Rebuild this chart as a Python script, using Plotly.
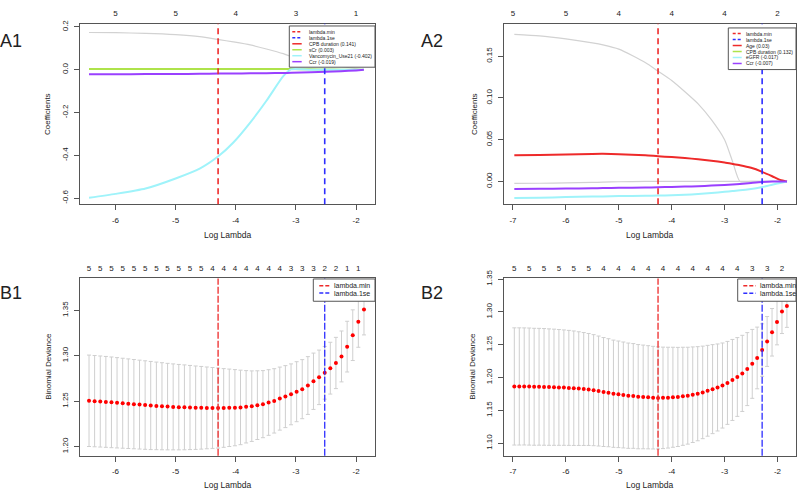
import plotly.graph_objects as go

W, H = 800, 492
def px(x): return x / W
def py(y): return 1 - y / H

FONT = "Liberation Sans, Arial, sans-serif"
TXT = "#222222"
LINE = "#555555"
RED = "#ee2a2a"
BLUE = "#2e2eff"
GREEN = "#aee34b"
CYAN = "#9ff3fa"
PURPLE = "#9a40ff"
GRAY = "#d2d2d2"

# ---------------- A1: coefficient paths ----------------
a1_loglam = [-6.44, -6.0, -5.5, -5.0, -4.6, -4.28, -4.04, -3.76, -3.49, -3.21, -3.08, -2.75, -2.5, -2.25, -2.0, -1.87]
a1_cpb = [0.174, 0.173, 0.170, 0.164, 0.155, 0.141, 0.130, 0.116, 0.097, 0.075, 0.062, 0.042, 0.028, 0.016, 0.005, 0.0]
a1_scr = [0.003, 0.003, 0.003, 0.003, 0.003, 0.003, 0.003, 0.003, 0.003, 0.003, 0.003, 0.002, 0.001, 0.0005, 0.0, 0.0]
a1_vanco = [-0.598, -0.580, -0.555, -0.508, -0.462, -0.402, -0.340, -0.247, -0.145, -0.030, 0.002, 0.0, 0.0, 0.0, 0.0, 0.0]
a1_ccr = [-0.0210, -0.0208, -0.0203, -0.0197, -0.0190, -0.0180, -0.0175, -0.0168, -0.0160, -0.0150, -0.0143, -0.0122, -0.0098, -0.0070, -0.0030, 0.0]
a1_top_pos = [-6, -5, -4, -3, -2]
a1_top_nz = [5, 5, 4, 3, 1]
a1_legend = ["lambda.min", "lambda.1se", "CPB duration (0.141)", "sCr (0.003)", "Vancomycin_Use21 (-0.402)", "Ccr (-0.019)"]

# ---------------- A2: coefficient paths ----------------
a2_loglam = [-6.975, -6.5, -6.0, -5.5, -5.3, -5.0, -4.5, -4.26, -4.0, -3.75, -3.5, -3.25, -3.0, -2.85, -2.71, -2.5, -2.3, -2.1, -1.95, -1.82]
a2_cpb = [0.1763, 0.1745, 0.1708, 0.1660, 0.1636, 0.1585, 0.1425, 0.1323, 0.1210, 0.1075, 0.0930, 0.0740, 0.0500, 0.0240, 0.0, 0.0, 0.0, 0.0, 0.0, 0.0]
a2_other = [-0.0024, -0.0022, -0.0018, -0.0012, -0.0009, -0.0004, 0.0, 0.0, 0.0, 0.0, 0.0, 0.0, 0.0, 0.0, 0.0, 0.0, 0.0, 0.0, 0.0, 0.0]
a2_age = [0.0314, 0.0318, 0.0324, 0.0330, 0.0331, 0.0326, 0.0313, 0.0302, 0.0292, 0.0280, 0.0266, 0.0248, 0.0226, 0.0210, 0.0194, 0.0163, 0.0118, 0.0062, 0.0018, 0.0]
a2_egfr = [-0.0200, -0.0195, -0.0188, -0.0182, -0.0180, -0.0176, -0.0172, -0.0170, -0.0166, -0.0160, -0.0152, -0.0140, -0.0125, -0.0116, -0.0107, -0.0090, -0.0070, -0.0040, -0.0018, 0.0]
a2_ccr = [-0.0090, -0.0088, -0.0085, -0.0082, -0.0080, -0.0077, -0.0073, -0.0070, -0.0066, -0.0062, -0.0057, -0.0050, -0.0042, -0.0036, -0.0030, -0.0018, -0.0007, 0.0, 0.0, 0.0]
a2_top_pos = [-7, -6, -5, -4, -3, -2]
a2_top_nz = [5, 5, 4, 4, 4, 2]
a2_legend = ["lambda.min", "lambda.1se", "Age (0.03)", "CPB duration (0.132)", "eGFR (-0.017)", "Ccr (-0.007)"]

# ---------------- B1: cross-validation ----------------
b1_loglam = [-6.440, -6.347, -6.253, -6.160, -6.067, -5.974, -5.880, -5.787, -5.694, -5.600,
             -5.507, -5.414, -5.320, -5.227, -5.134, -5.041, -4.947, -4.854, -4.761, -4.667,
             -4.574, -4.481, -4.387, -4.294, -4.201, -4.108, -4.014, -3.921, -3.828, -3.734,
             -3.641, -3.548, -3.454, -3.361, -3.268, -3.175, -3.081, -2.988, -2.895, -2.801,
             -2.708, -2.615, -2.521, -2.428, -2.335, -2.242, -2.148, -2.055, -1.962, -1.868]
b1_dev = [1.2504, 1.2500, 1.2496, 1.2492, 1.2487, 1.2482, 1.2477, 1.2472, 1.2467, 1.2462,
          1.2457, 1.2452, 1.2448, 1.2444, 1.2440, 1.2437, 1.2434, 1.2432, 1.2430, 1.2428,
          1.2427, 1.2426, 1.2425, 1.2424, 1.2425, 1.2427, 1.2428, 1.2431, 1.2438, 1.2445,
          1.2456, 1.2467, 1.2485, 1.2503, 1.2528, 1.2550, 1.2575, 1.2604, 1.2632, 1.2672,
          1.2719, 1.2762, 1.2812, 1.2863, 1.2920, 1.2992, 1.3100, 1.3226, 1.3373, 1.3509]
b1_se = [0.0503, 0.0502, 0.0501, 0.0500, 0.0499, 0.0497, 0.0495, 0.0493, 0.0491, 0.0489,
         0.0487, 0.0485, 0.0482, 0.0479, 0.0476, 0.0473, 0.0470, 0.0467, 0.0463, 0.0459,
         0.0455, 0.0450, 0.0445, 0.0440, 0.0433, 0.0426, 0.0419, 0.0410, 0.0398, 0.0388,
         0.0378, 0.0369, 0.0361, 0.0354, 0.0347, 0.0341, 0.0335, 0.0330, 0.0325, 0.0318,
         0.0310, 0.0300, 0.0290, 0.0285, 0.0282, 0.0280, 0.0279, 0.0279, 0.0280, 0.0280]
b1_top_nz = [5, 5, 5, 5, 5, 5, 5, 5, 5, 5, 5, 4, 4, 4, 4, 4, 4, 4, 3, 3, 3, 2, 2, 1, 1]
b1_min_idx, b1_1se_idx = 23, 42

# ---------------- B2: cross-validation ----------------
b2_loglam = [-6.975, -6.881, -6.788, -6.694, -6.600, -6.507, -6.413, -6.319, -6.225, -6.132,
             -6.038, -5.944, -5.851, -5.757, -5.663, -5.570, -5.476, -5.382, -5.288, -5.195,
             -5.101, -5.007, -4.914, -4.820, -4.726, -4.633, -4.539, -4.445, -4.351, -4.258,
             -4.164, -4.070, -3.977, -3.883, -3.789, -3.696, -3.602, -3.508, -3.414, -3.321,
             -3.227, -3.133, -3.040, -2.946, -2.852, -2.759, -2.665, -2.571, -2.477, -2.384,
             -2.290, -2.196, -2.103, -2.009, -1.915, -1.822]
b2_dev = [1.1865, 1.1865, 1.1865, 1.1863, 1.1860, 1.1860, 1.1858, 1.1855, 1.1853, 1.1850,
          1.1847, 1.1843, 1.1838, 1.1832, 1.1826, 1.1819, 1.1808, 1.1795, 1.1780, 1.1769,
          1.1754, 1.1745, 1.1735, 1.1724, 1.1720, 1.1709, 1.1705, 1.1700, 1.1694, 1.1690,
          1.1691, 1.1694, 1.1700, 1.1705, 1.1715, 1.1724, 1.1739, 1.1754, 1.1774, 1.1799,
          1.1824, 1.1849, 1.1879, 1.1919, 1.1964, 1.2009, 1.2064, 1.2129, 1.2209, 1.2299,
          1.2419, 1.2550, 1.2690, 1.2845, 1.3005, 1.3090]
b2_se = [0.0893, 0.0893, 0.0892, 0.0892, 0.0891, 0.0890, 0.0889, 0.0887, 0.0885, 0.0882,
         0.0879, 0.0876, 0.0872, 0.0866, 0.0860, 0.0853, 0.0846, 0.0838, 0.0830, 0.0823,
         0.0817, 0.0812, 0.0807, 0.0802, 0.0798, 0.0794, 0.0790, 0.0786, 0.0782, 0.0778,
         0.0773, 0.0768, 0.0762, 0.0755, 0.0747, 0.0738, 0.0728, 0.0717, 0.0705, 0.0692,
         0.0678, 0.0663, 0.0648, 0.0632, 0.0617, 0.0600, 0.0580, 0.0556, 0.0525, 0.0470,
         0.0400, 0.0380, 0.0362, 0.0346, 0.0334, 0.0325]
b2_top_nz = [5, 5, 5, 5, 5, 5, 4, 4, 4, 4, 4, 4, 4, 4, 4, 4, 3, 3, 2]
b2_min_idx, b2_1se_idx = 29, 50
b_legend = ["lambda.min", "lambda.1se"]

# axis ticks
x_ticks_1 = [-6, -5, -4, -3, -2]
x_ticks_2 = [-7, -6, -5, -4, -3, -2]
a1_yticks = [-0.6, -0.4, -0.2, 0.0, 0.2]
a2_yticks = [0.00, 0.05, 0.10, 0.15]
b1_yticks = [1.20, 1.25, 1.30, 1.35]
b2_yticks = [1.10, 1.15, 1.20, 1.25, 1.30, 1.35]

fig = go.Figure()

def add_path(x, y, color, width, xa, ya):
    fig.add_trace(go.Scatter(x=x, y=y, mode="lines",
                             line=dict(color=color, width=width, shape="spline", smoothing=0.6),
                             xaxis=xa, yaxis=ya, showlegend=False, hoverinfo="skip"))

# A1
add_path(a1_loglam, a1_cpb, GRAY, 1.2, "x", "y")
add_path(a1_loglam, a1_scr, GREEN, 2, "x", "y")
add_path(a1_loglam, a1_vanco, CYAN, 2, "x", "y")
add_path(a1_loglam, a1_ccr, PURPLE, 2, "x", "y")
# A2
add_path(a2_loglam, a2_cpb, GRAY, 1.2, "x2", "y2")
add_path(a2_loglam, a2_other, GRAY, 1.2, "x2", "y2")
add_path(a2_loglam, a2_age, RED, 2, "x2", "y2")
add_path(a2_loglam, a2_egfr, CYAN, 2, "x2", "y2")
add_path(a2_loglam, a2_ccr, PURPLE, 2, "x2", "y2")

# B panels
for xs, ys, se, xa, ya in [(b1_loglam, b1_dev, b1_se, "x3", "y3"), (b2_loglam, b2_dev, b2_se, "x4", "y4")]:
    fig.add_trace(go.Scatter(x=xs, y=ys, mode="markers",
                             marker=dict(color="#ff0000", size=4),
                             error_y=dict(type="data", array=se, color="#cfcfcf", thickness=1, width=2),
                             xaxis=xa, yaxis=ya, showlegend=False, hoverinfo="skip"))

# top axes dummy traces
top_specs = [
    ("x5", "y", a1_top_pos, a1_top_nz),
    ("x6", "y2", a2_top_pos, a2_top_nz),
    ("x7", "y3", b1_loglam[0::2], b1_top_nz),
    ("x8", "y4", b2_loglam[0::3], b2_top_nz),
]
for xa, ya, pos, nz in top_specs:
    fig.add_trace(go.Scatter(x=pos, y=[None] * len(pos), mode="markers", xaxis=xa, yaxis=ya,
                             showlegend=False, hoverinfo="skip"))

A_Y = [py(199), py(15)]
B_Y = [py(455), py(274.5)]
DX1 = [80 / W, 375 / W]
DX2 = [504 / W, 796 / W]
RX1 = [-6.59, -1.685]
RX2 = [-7.17, -1.65]

def fmt(v, d):
    return f"{v:.{d}f}"

def xax(domain, rng, anchor, ticks):
    return dict(domain=domain, range=rng, anchor=anchor, showline=True, linecolor=LINE, linewidth=1,
                mirror=True, ticks="outside", ticklen=5, tickcolor=LINE, tickwidth=1, showgrid=False,
                zeroline=False, tickmode="array", tickvals=ticks, ticktext=[str(t) for t in ticks],
                tickfont=dict(size=8, color=TXT, family=FONT), ticklabelstandoff=3)

def yax(domain, rng, anchor, ticks, dec):
    return dict(domain=domain, range=rng, anchor=anchor, showline=True, linecolor=LINE, linewidth=1,
                mirror=True, ticks="outside", ticklen=5, tickcolor=LINE, tickwidth=1, showgrid=False,
                zeroline=False, tickmode="array", tickvals=ticks, ticktext=[fmt(t, dec) for t in ticks],
                tickangle=-90, tickfont=dict(size=8, color=TXT, family=FONT), ticklabelstandoff=3)

def topax(over, rng, anchor, pos, nz):
    return dict(overlaying=over, side="top", range=rng, anchor=anchor, showline=False, ticks="",
                showgrid=False, zeroline=False, tickmode="array", tickvals=pos,
                ticktext=[str(n) for n in nz], tickfont=dict(size=8, color=TXT, family=FONT),
                ticklabelstandoff=5)

layout = dict(
    width=W, height=H, margin=dict(l=0, r=0, t=0, b=0),
    paper_bgcolor="white", plot_bgcolor="white", showlegend=False,
    font=dict(family=FONT, color=TXT),
    xaxis=xax(DX1, RX1, "y", x_ticks_1),
    yaxis=yax(A_Y, [-0.629, 0.215], "x", a1_yticks, 1),
    xaxis2=xax(DX2, RX2, "y2", x_ticks_2),
    yaxis2=yax(A_Y, [-0.0275, 0.189], "x2", a2_yticks, 2),
    xaxis3=xax(DX1, RX1, "y3", x_ticks_1),
    yaxis3=yax(B_Y, [1.19, 1.385], "x3", b1_yticks, 2),
    xaxis4=xax(DX2, RX2, "y4", x_ticks_2),
    yaxis4=yax(B_Y, [1.081, 1.351], "x4", b2_yticks, 2),
    xaxis5=topax("x", RX1, "y", a1_top_pos, a1_top_nz),
    xaxis6=topax("x2", RX2, "y2", a2_top_pos, a2_top_nz),
    xaxis7=topax("x3", RX1, "y3", b1_loglam[0::2], b1_top_nz),
    xaxis8=topax("x4", RX2, "y4", b2_loglam[0::3], b2_top_nz),
)

shapes = []
annotations = []

def vline(xval, xa, ya, color, dash, width):
    shapes.append(dict(type="line", xref=xa, yref=ya + " domain", x0=xval, x1=xval, y0=0, y1=1,
                       line=dict(color=color, dash=dash, width=width)))

vline(b1_loglam[b1_min_idx], "x", "y", RED, "6px,4px", 1.6)
vline(b1_loglam[b1_1se_idx], "x", "y", BLUE, "6px,4px", 1.6)
vline(b2_loglam[b2_min_idx], "x2", "y2", RED, "6px,4px", 1.6)
vline(b2_loglam[b2_1se_idx], "x2", "y2", BLUE, "6px,4px", 1.6)
vline(b1_loglam[b1_min_idx], "x3", "y3", RED, "7px,2px", 1.3)
vline(b1_loglam[b1_1se_idx], "x3", "y3", BLUE, "7px,2px", 1.3)
vline(b2_loglam[b2_min_idx], "x4", "y4", RED, "7px,2px", 1.3)
vline(b2_loglam[b2_1se_idx], "x4", "y4", BLUE, "7px,2px", 1.3)

def ann(text, x, y, size, xanchor="center", yanchor="middle", angle=0):
    annotations.append(dict(text=text, x=px(x), y=py(y), xref="paper", yref="paper", showarrow=False,
                            font=dict(size=size, color=TXT, family=FONT), xanchor=xanchor,
                            yanchor=yanchor, textangle=angle, borderpad=0))

def legend_box(x0, x1, y0, y1, labels, styles, lx0, lx1, tx, yfirst, dy, fsize):
    shapes.append(dict(type="rect", xref="paper", yref="paper", x0=px(x0), x1=px(x1),
                       y0=py(y1), y1=py(y0), line=dict(color=LINE, width=1), fillcolor="white"))
    for k, (lab, (col, dash)) in enumerate(zip(labels, styles)):
        yy = yfirst + k * dy
        shapes.append(dict(type="line", xref="paper", yref="paper", x0=px(lx0), x1=px(lx1),
                           y0=py(yy), y1=py(yy), line=dict(color=col, dash=dash, width=1.5)))
        ann(lab, tx, yy, fsize, xanchor="left")

legend_box(289.3, 375, 17.3, 59.3, a1_legend,
           [(RED, "3px,2px"), (BLUE, "3px,2px"), (RED, "solid"), (GREEN, "solid"), (CYAN, "solid"), (PURPLE, "solid")],
           292.3, 301.7, 308, 23.3, 6.07, 5)
legend_box(728.3, 796, 19.3, 61.7, a2_legend,
           [(RED, "3px,2px"), (BLUE, "3px,2px"), (RED, "solid"), (GREEN, "solid"), (CYAN, "solid"), (PURPLE, "solid")],
           732.7, 741.7, 745, 25, 6.1, 5)
legend_box(313.3, 375, 275, 297.7, b_legend, [(RED, "4px,2px"), (BLUE, "4px,2px")],
           319.3, 331, 333, 282, 7.3, 7)
legend_box(737.7, 796, 275, 297.7, b_legend, [(RED, "4px,2px"), (BLUE, "4px,2px")],
           743.3, 755.7, 759, 282, 7.5, 7)

# panel labels
ann("A1", 11, 33, 18)
ann("A2", 431.7, 33, 18)
ann("B1", 11, 289, 18)
ann("B2", 431.7, 289, 18)

# axis titles
ann("Log Lambda", 227.5, 230, 8.5)
ann("Log Lambda", 650, 230, 8.5)
ann("Log Lambda", 227.5, 485, 8.5)
ann("Log Lambda", 650, 485, 8.5)
ann("Coefficients", 47, 107, 8, angle=-90)
ann("Coefficients", 474, 107, 8, angle=-90)
ann("Binomial Deviance", 49, 364.5, 8, angle=-90)
ann("Binomial Deviance", 473, 364.5, 8, angle=-90)

layout["shapes"] = shapes
layout["annotations"] = annotations
fig.update_layout(**layout)
fig.write_html("out.html")
